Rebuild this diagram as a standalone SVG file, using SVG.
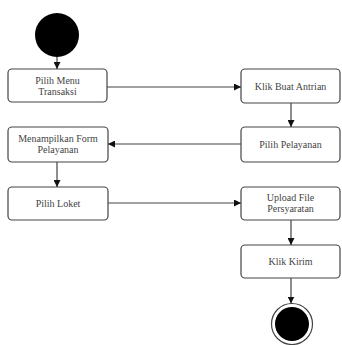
<svg xmlns="http://www.w3.org/2000/svg" width="342" height="345" viewBox="0 0 342 345">
<defs>
<marker id="arr" viewBox="0 0 10 10" refX="10" refY="5" markerWidth="7" markerHeight="7" markerUnits="userSpaceOnUse" orient="auto">
<path d="M0,0 L10,5 L0,10 z" fill="#111"/>
</marker>
<style>
.box{fill:#fff;stroke:#444;stroke-width:1.2}
.t{font-family:'Liberation Serif','DejaVu Serif',serif;font-size:10px;fill:#444;text-anchor:middle}
.c{fill:none;stroke:#444;stroke-width:1.2;marker-end:url(#arr)}
</style>
</defs>
<rect width="342" height="345" fill="#fff"/>
<g id="start"><circle cx="57" cy="35" r="22" fill="#000"/></g>
<g id="n1"><rect class="box" x="8" y="69" width="99" height="33" rx="4"/><text class="t" x="57.5" y="84">Pilih Menu</text><text class="t" x="57.5" y="95">Transaksi</text></g>
<g id="n2"><rect class="box" x="241" y="69" width="99" height="34" rx="4"/><text class="t" x="290.5" y="90">Klik Buat Antrian</text></g>
<g id="n3"><rect class="box" x="241" y="127" width="99" height="35" rx="4"/><text class="t" x="290.5" y="148">Pilih  Pelayanan</text></g>
<g id="n4"><rect class="box" x="8" y="127" width="100" height="35" rx="4"/><text class="t" x="58" y="141.5">Menampilkan Form</text><text class="t" x="58" y="152.5">Pelayanan</text></g>
<g id="n5"><rect class="box" x="8" y="187" width="100" height="33" rx="4"/><text class="t" x="58" y="207">Pilih Loket</text></g>
<g id="n6"><rect class="box" x="241" y="187" width="99" height="33" rx="4"/><text class="t" x="290.5" y="201">Upload File</text><text class="t" x="290.5" y="212">Persyaratan</text></g>
<g id="n7"><rect class="box" x="241" y="245" width="99" height="33" rx="4"/><text class="t" x="290.5" y="265">Klik Kirim</text></g>
<g id="end"><circle cx="292" cy="324" r="20.5" fill="#fff" stroke="#444" stroke-width="1.2"/><circle cx="292" cy="324" r="17" fill="#000"/></g>
<g id="connectors">
<path class="c" d="M57,57 L57,69"/>
<path class="c" d="M107,87 L241,87"/>
<path class="c" d="M291,103 L291,127"/>
<path class="c" d="M241,144 L108,144"/>
<path class="c" d="M57,162 L57,187"/>
<path class="c" d="M108,203 L241,203"/>
<path class="c" d="M291,220 L291,245"/>
<path class="c" d="M291,278 L291,303.5"/>
</g>
</svg>
